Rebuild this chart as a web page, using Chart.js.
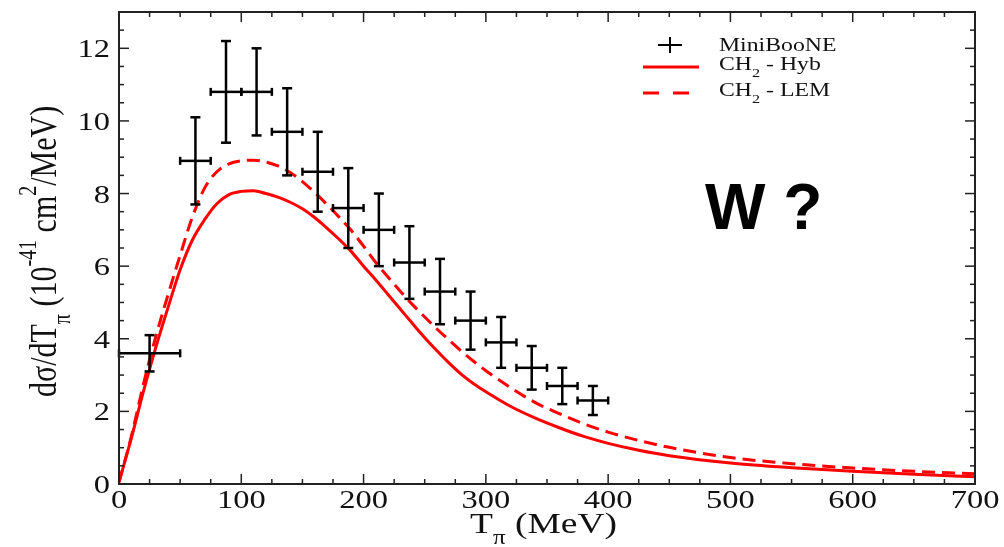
<!DOCTYPE html>
<html>
<head>
<meta charset="utf-8">
<script src="https://cdn.jsdelivr.net/npm/chart.js@4.4.0/dist/chart.umd.min.js"></script>
<style>
  html, body { margin: 0; padding: 0; background: #fff; }
  canvas { display: block; }
</style>
</head>
<body>
<canvas id="chart" width="1004" height="547"></canvas>
<script>
// pion kinetic energy grid for the model curves (MeV)
const curveT = [0, 10, 20, 30, 40, 50, 60, 70, 80, 90, 100, 110, 120, 130, 140, 150,
  160, 170, 180, 190, 200, 210, 220, 230, 240, 250, 260, 270, 280, 290, 300,
  320, 340, 360, 380, 400, 425, 450, 500, 550, 600, 650, 700];
// CH2 - Hyb (solid)
const hybValues = [0.05, 1.25, 2.55, 3.75, 4.85, 5.9, 6.72, 7.28, 7.72, 7.97, 8.06, 8.08, 8.0, 7.9, 7.76, 7.58,
  7.34, 7.05, 6.74, 6.4, 6.0, 5.62, 5.22, 4.82, 4.42, 4.03, 3.67, 3.33, 3.02, 2.76, 2.54,
  2.14, 1.82, 1.55, 1.31, 1.12, 0.93, 0.78, 0.58, 0.45, 0.35, 0.27, 0.2];
// CH2 - LEM (dashed)
const lemValues = [0.05, 1.3, 2.75, 4.05, 5.2, 6.3, 7.35, 8.15, 8.6, 8.82, 8.9, 8.92, 8.87, 8.76, 8.58, 8.33,
  8.03, 7.7, 7.35, 6.98, 6.55, 6.1, 5.7, 5.31, 4.94, 4.6, 4.27, 3.96, 3.66, 3.38, 3.12,
  2.66, 2.25, 1.94, 1.66, 1.43, 1.2, 1.01, 0.73, 0.56, 0.44, 0.35, 0.28];

// MiniBooNE bins
const binLow = [0, 50, 75, 100, 125, 150, 175, 200, 225, 250, 275, 300, 325, 350, 375];
const binHigh = [50, 75, 100, 125, 150, 175, 200, 225, 250, 275, 300, 325, 350, 375, 400];
const booneValues = [3.6, 8.9, 10.8, 10.8, 9.7, 8.6, 7.6, 7.0, 6.1, 5.3, 4.5, 3.9, 3.2, 2.7, 2.3];
const booneErrors = [0.5, 1.2, 1.4, 1.2, 1.2, 1.1, 1.1, 1.0, 1.0, 0.9, 0.8, 0.7, 0.6, 0.5, 0.4];

const SERIF = '"Liberation Serif", "Times New Roman", serif';
const HS = 1.25; // the original figure is stretched sideways

function drawRich(ctx, parts, x, y, hs, rotate) {
  ctx.save();
  ctx.translate(x, y);
  ctx.scale(hs, 1);
  if (rotate) ctx.rotate(-Math.PI / 2);
  ctx.textBaseline = 'alphabetic';
  ctx.textAlign = 'left';
  let cx = 0;
  for (const p of parts) {
    ctx.font = p.size + 'px ' + SERIF;
    ctx.fillText(p.t, cx, p.dy || 0);
    cx += ctx.measureText(p.t).width;
  }
  ctx.restore();
}

function textW(ctx, str, size) {
  ctx.font = size + 'px ' + SERIF;
  return ctx.measureText(str).width * HS;
}

function line(ctx, x1, y1, x2, y2) {
  ctx.beginPath();
  ctx.moveTo(x1, y1);
  ctx.lineTo(x2, y2);
  ctx.stroke();
}

const errorBars = {
  id: 'errorBars',
  afterDatasetsDraw(chart) {
    const ctx = chart.ctx, xs = chart.scales.x, ys = chart.scales.y;
    ctx.save();
    ctx.strokeStyle = '#000';
    ctx.lineWidth = 2.5;
    for (let i = 0; i < booneValues.length; i++) {
      const xl = xs.getPixelForValue(binLow[i]);
      const xh = xs.getPixelForValue(binHigh[i]);
      const xc = xs.getPixelForValue((binLow[i] + binHigh[i]) / 2);
      const yc = ys.getPixelForValue(booneValues[i]);
      const yt = ys.getPixelForValue(booneValues[i] + booneErrors[i]);
      const yb = ys.getPixelForValue(booneValues[i] - booneErrors[i]);
      line(ctx, xl, yc, xh, yc);
      line(ctx, xl, yc - 4, xl, yc + 4);
      line(ctx, xh, yc - 4, xh, yc + 4);
      line(ctx, xc, yt, xc, yb);
      line(ctx, xc - 5, yt, xc + 5, yt);
      line(ctx, xc - 5, yb, xc + 5, yb);
    }
    ctx.restore();
  }
};

const frame = {
  id: 'frame',
  afterDraw(chart) {
    const ctx = chart.ctx, xs = chart.scales.x, ys = chart.scales.y;
    const { left, right, top, bottom } = chart.chartArea;
    ctx.save();
    ctx.strokeStyle = '#222';
    ctx.lineWidth = 2;
    ctx.strokeRect(left, top, right - left, bottom - top);

    // inward ticks on all four sides
    ctx.lineWidth = 1.5;
    for (let k = 0; k * 25 <= xs.max; k++) {
      const px = xs.getPixelForValue(k * 25);
      const len = k % 4 === 0 ? 10 : 5;
      line(ctx, px, bottom, px, bottom - len);
      line(ctx, px, top, px, top + len);
    }
    for (let k = 0; k * 0.5 <= ys.max; k++) {
      const py = ys.getPixelForValue(k * 0.5);
      const len = k % 4 === 0 ? 10 : 5;
      line(ctx, left, py, left + len, py);
      line(ctx, right, py, right - len, py);
    }

    // tick labels
    ctx.fillStyle = '#111';
    xs.ticks.forEach(t => {
      const s = String(t.value);
      const w = textW(ctx, s, 26);
      drawRich(ctx, [{ t: s, size: 26 }], xs.getPixelForValue(t.value) - w / 2, 508, HS);
    });
    ys.ticks.forEach(t => {
      const s = String(t.value);
      const w = textW(ctx, s, 26);
      drawRich(ctx, [{ t: s, size: 26 }], 110 - w, ys.getPixelForValue(t.value) + 9, HS);
    });

    // axis titles
    drawRich(ctx, [
      { t: 'T', size: 30 },
      { t: 'π', size: 20, dy: 11 },
      { t: ' (MeV)', size: 30 }
    ], 470, 533, HS);
    drawRich(ctx, [
      { t: 'dσ/dT', size: 30 },
      { t: 'π', size: 20, dy: 11 },
      { t: ' (10', size: 30 },
      { t: '-41', size: 20, dy: -16 },
      { t: ' cm', size: 30 },
      { t: '2', size: 20, dy: -16 },
      { t: '/MeV)', size: 30 }
    ], 56, 397, HS, true);

    // legend
    ctx.strokeStyle = '#000';
    ctx.lineWidth = 2;
    line(ctx, 658, 45, 682, 45);
    line(ctx, 670, 37, 670, 53);
    ctx.strokeStyle = '#ff0000';
    ctx.lineWidth = 3;
    line(ctx, 643, 67, 699, 67);
    ctx.setLineDash([16, 14]);
    line(ctx, 643, 93, 695, 93);
    ctx.setLineDash([]);
    ctx.fillStyle = '#111';
    drawRich(ctx, [{ t: chart.data.datasets[2].label, size: 19 }], 719, 51, HS);
    drawRich(ctx, [{ t: 'CH', size: 19 }, { t: '2', size: 13, dy: 7 }, { t: ' - Hyb', size: 19 }], 719, 70, HS);
    drawRich(ctx, [{ t: 'CH', size: 19 }, { t: '2', size: 13, dy: 7 }, { t: ' - LEM', size: 19 }], 719, 96, HS);

    // annotation
    ctx.fillStyle = '#000';
    ctx.font = 'bold 64px "Liberation Sans", Arial, sans-serif';
    ctx.textAlign = 'left';
    ctx.textBaseline = 'alphabetic';
    ctx.fillText('W ?', 705, 229);
    ctx.restore();
  }
};

new Chart(document.getElementById('chart'), {
  type: 'scatter',
  data: {
    datasets: [
      {
        label: 'CH2 - Hyb',
        data: curveT.map((t, i) => ({ x: t, y: hybValues[i] })),
        showLine: true,
        borderColor: '#ff0000',
        borderWidth: 3,
        pointRadius: 0,
        cubicInterpolationMode: 'monotone'
      },
      {
        label: 'CH2 - LEM',
        data: curveT.map((t, i) => ({ x: t, y: lemValues[i] })),
        showLine: true,
        borderColor: '#ff0000',
        borderWidth: 3,
        borderDash: [13, 7],
        pointRadius: 0,
        cubicInterpolationMode: 'monotone'
      },
      {
        label: 'MiniBooNE',
        data: booneValues.map((v, i) => ({ x: (binLow[i] + binHigh[i]) / 2, y: v })),
        pointRadius: 0
      }
    ]
  },
  options: {
    responsive: false,
    animation: false,
    devicePixelRatio: 1,
    layout: { padding: { top: 12, right: 29, left: 0, bottom: 0 } },
    plugins: { legend: { display: false }, tooltip: { enabled: false } },
    scales: {
      x: {
        type: 'linear', min: 0, max: 700,
        ticks: { display: false, stepSize: 100, includeBounds: false },
        grid: { display: false },
        border: { display: false },
        afterFit(s) { s.height = 63; }
      },
      y: {
        type: 'linear', min: 0, max: 13,
        ticks: { display: false, stepSize: 2, includeBounds: false },
        grid: { display: false },
        border: { display: false },
        afterFit(s) { s.width = 119; }
      }
    }
  },
  plugins: [errorBars, frame]
});
</script>
</body>
</html>
